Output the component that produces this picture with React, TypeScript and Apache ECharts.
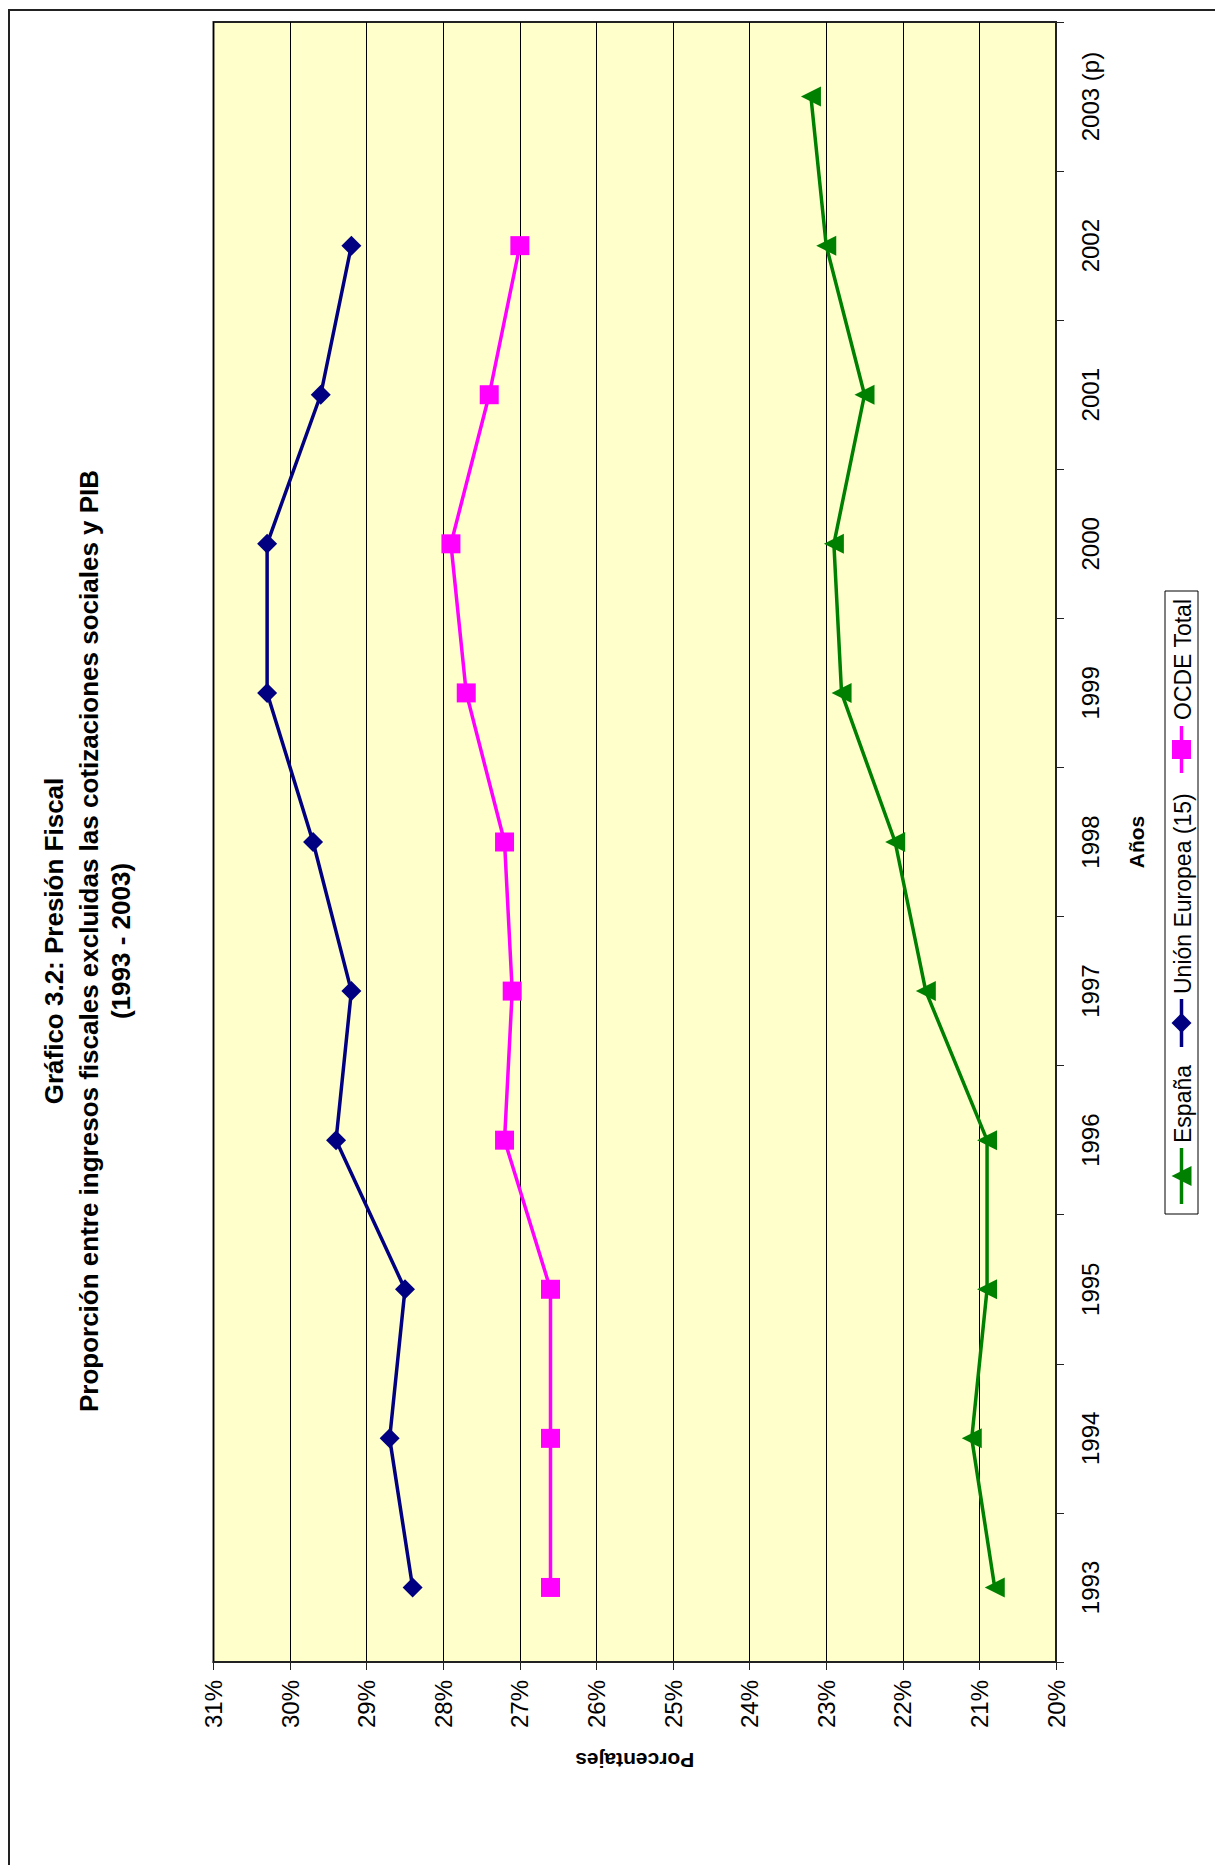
import React, { useEffect, useRef } from "react";
import * as echarts from "echarts";

const years = ["1993", "1994", "1995", "1996", "1997", "1998", "1999", "2000", "2001", "2002", "2003 (p)"];
const espana = [20.8, 21.1, 20.9, 20.9, 21.7, 22.1, 22.8, 22.9, 22.5, 23.0, 23.2];
const unionEuropea = [28.4, 28.7, 28.5, 29.4, 29.2, 29.7, 30.3, 30.3, 29.6, 29.2, null];
const ocde = [26.6, 26.6, 26.6, 27.2, 27.1, 27.2, 27.7, 27.9, 27.4, 27.0, null];

const titleLines = [
  "Gráfico 3.2: Presión Fiscal",
  "Proporción entre ingresos fiscales excluidas las cotizaciones sociales y PIB",
  "(1993 - 2003)",
];
const legendNames = ["España", "Unión Europea (15)", "OCDE Total"];

const FONT = "'Liberation Sans', Arial, Helvetica, sans-serif";
const GREEN = "#008000";
const NAVY = "#000080";
const MAGENTA = "#FF00FF";

export default function App() {
  const ref = useRef<HTMLDivElement>(null);

  useEffect(() => {
    if (!ref.current) return;
    const chart = echarts.init(ref.current, undefined, { renderer: "svg" });

    const toPairs = (arr: (number | null)[]) => arr.map((v, i) => [v, years[i]]);

    const titleX = [46, 81, 113];
    const titleGraphics = titleLines.map((t, i) => ({
      type: "text",
      x: titleX[i],
      y: 933,
      rotation: Math.PI / 2,
      style: {
        text: t,
        font: `bold 26px ${FONT}`,
        fill: "#000",
        textAlign: "center",
        textVerticalAlign: "middle",
      },
    }));

    const cy = 16.5;
    const LF = `23px ${FONT}`;
    const legendItems: any[] = [
      { type: "rect", shape: { x: 0, y: 0, width: 623, height: 33 }, style: { fill: "#fff", stroke: "#000", lineWidth: 1 } },
      // España
      { type: "line", shape: { x1: 10, y1: cy, x2: 66, y2: cy }, style: { stroke: GREEN, lineWidth: 3.5 } },
      { type: "polygon", shape: { points: [[38, cy - 10], [28, cy + 10], [48, cy + 10]] }, style: { fill: GREEN } },
      { type: "text", x: 71, y: cy + 1, style: { text: legendNames[0], font: LF, fill: "#000", textAlign: "left", textVerticalAlign: "middle" } },
      // UE
      { type: "line", shape: { x1: 167, y1: cy, x2: 215, y2: cy }, style: { stroke: NAVY, lineWidth: 3.5 } },
      { type: "polygon", shape: { points: [[191, cy - 10], [201, cy], [191, cy + 10], [181, cy]] }, style: { fill: NAVY } },
      { type: "text", x: 220, y: cy + 1, style: { text: legendNames[1], font: LF, fill: "#000", textAlign: "left", textVerticalAlign: "middle" } },
      // OCDE
      { type: "line", shape: { x1: 441, y1: cy, x2: 488, y2: cy }, style: { stroke: MAGENTA, lineWidth: 3.5 } },
      { type: "rect", shape: { x: 455, y: cy - 9.5, width: 19, height: 19 }, style: { fill: MAGENTA } },
      { type: "text", x: 494, y: cy + 1, style: { text: legendNames[2], font: LF, fill: "#000", textAlign: "left", textVerticalAlign: "middle" } },
    ];

    chart.setOption({
      animation: false,
      backgroundColor: "#ffffff",
      textStyle: { fontFamily: FONT },
      grid: {
        left: 205.5,
        top: 14,
        width: 842.5,
        height: 1640,
        show: true,
        backgroundColor: "#FFFFCC",
        borderColor: "#222",
        borderWidth: 2,
        containLabel: false,
      },
      xAxis: {
        type: "value",
        min: 20,
        max: 31,
        interval: 1,
        inverse: true,
        position: "bottom",
        axisLine: { show: true, lineStyle: { color: "#222", width: 2 } },
        axisTick: { show: true, length: 8, lineStyle: { color: "#222", width: 1 } },
        axisLabel: {
          rotate: 90,
          margin: 18,
          fontSize: 24,
          color: "#000",
          fontFamily: FONT,
          formatter: (v: number) => `${v}%`,
        },
        splitLine: { show: true, lineStyle: { color: "#000", width: 1 } },
        name: "Porcentajes",
        nameLocation: "middle",
        nameRotate: 180,
        nameGap: 88,
        nameTextStyle: { fontSize: 21, fontWeight: "bold", color: "#000", fontFamily: FONT },
      },
      yAxis: {
        type: "category",
        data: years,
        position: "right",
        boundaryGap: true,
        axisLine: { show: true, lineStyle: { color: "#222", width: 2 } },
        axisTick: { show: true, length: 8, interval: 0, lineStyle: { color: "#222", width: 1 } },
        axisLabel: {
          rotate: 90,
          margin: 22,
          fontSize: 24,
          color: "#000",
          fontFamily: FONT,
          interval: 0,
        },
        splitLine: { show: false },
        name: "Años",
        nameLocation: "middle",
        nameRotate: 90,
        nameGap: 70,
        nameTextStyle: { fontSize: 21, fontWeight: "bold", color: "#000", fontFamily: FONT },
      },
      series: [
        {
          name: legendNames[0],
          type: "line",
          data: toPairs(espana),
          symbol: "triangle",
          symbolRotate: 90,
          symbolSize: 20,
          lineStyle: { color: GREEN, width: 3.5 },
          itemStyle: { color: GREEN },
        },
        {
          name: legendNames[1],
          type: "line",
          data: toPairs(unionEuropea),
          symbol: "diamond",
          symbolSize: 20,
          lineStyle: { color: NAVY, width: 3.5 },
          itemStyle: { color: NAVY },
        },
        {
          name: legendNames[2],
          type: "line",
          data: toPairs(ocde),
          symbol: "rect",
          symbolSize: 19,
          lineStyle: { color: MAGENTA, width: 3.5 },
          itemStyle: { color: MAGENTA },
        },
      ],
      graphic: [
        {
          type: "rect",
          shape: { x: 1, y: 2, width: 3000, height: 3000 },
          style: { fill: "none", stroke: "#222", lineWidth: 2 },
          silent: true,
        },
        ...titleGraphics,
        {
          type: "group",
          x: 1157,
          y: 1206,
          rotation: Math.PI / 2,
          children: legendItems,
        },
      ],
    });

    return () => chart.dispose();
  }, []);

  return <div ref={ref} style={{ width: 1215, height: 1857 }} />;
}
